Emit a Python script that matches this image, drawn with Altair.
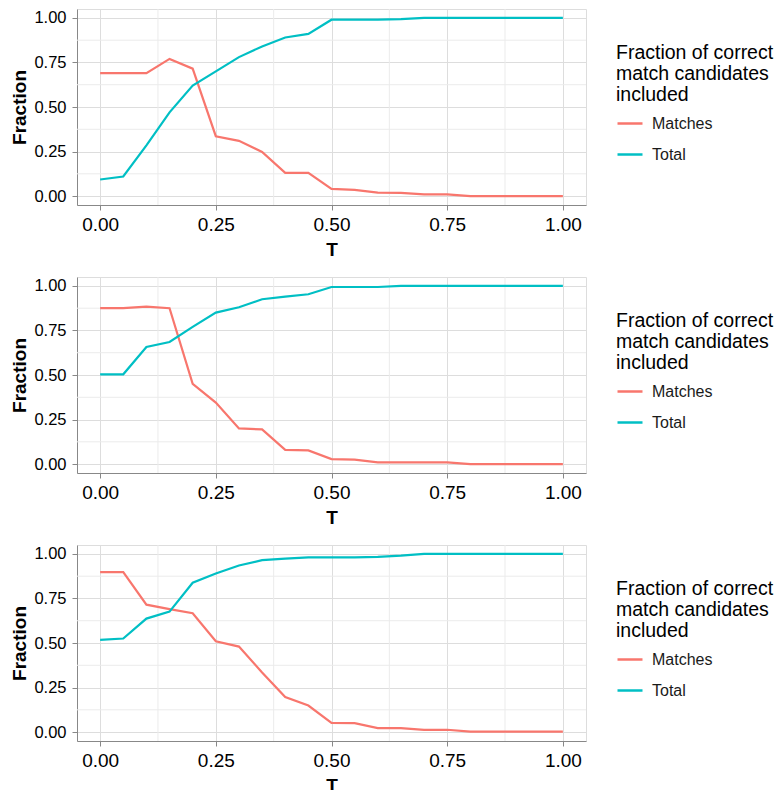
import altair as alt
import pandas as pd

T = [0.0, 0.05, 0.1, 0.15, 0.2, 0.25, 0.3, 0.35, 0.4, 0.45, 0.5,
     0.55, 0.6, 0.65, 0.7, 0.75, 0.8, 0.85, 0.9, 0.95, 1.0]

p1_matches = [0.69, 0.69, 0.69, 0.77, 0.715, 0.336, 0.31, 0.248, 0.13, 0.13, 0.04,
              0.035, 0.02, 0.018, 0.01, 0.01, 0.0, 0.0, 0.0, 0.0, 0.0]
p1_total = [0.093, 0.11, 0.285, 0.47, 0.62, 0.70, 0.78, 0.84, 0.89, 0.91, 0.99,
            0.99, 0.99, 0.993, 1.0, 1.0, 1.0, 1.0, 1.0, 1.0, 1.0]

p2_matches = [0.875, 0.875, 0.884, 0.875, 0.45, 0.345, 0.20, 0.195, 0.08, 0.077, 0.028,
              0.025, 0.01, 0.01, 0.01, 0.01, 0.0, 0.0, 0.0, 0.0, 0.0]
p2_total = [0.504, 0.504, 0.657, 0.685, 0.77, 0.85, 0.88, 0.925, 0.94, 0.953, 0.994,
            0.994, 0.994, 1.0, 1.0, 1.0, 1.0, 1.0, 1.0, 1.0, 1.0]

p3_matches = [0.898, 0.898, 0.715, 0.69, 0.667, 0.51, 0.48, 0.335, 0.197, 0.149, 0.052,
              0.05, 0.022, 0.022, 0.013, 0.013, 0.003, 0.003, 0.003, 0.003, 0.003]
p3_total = [0.518, 0.525, 0.637, 0.676, 0.838, 0.89, 0.935, 0.965, 0.974, 0.981, 0.981,
            0.981, 0.983, 0.99, 1.0, 1.0, 1.0, 1.0, 1.0, 1.0, 1.0]

series_names = ["Matches", "Total"]
series_colors = ["#F8766D", "#00BFC4"]
major_ticks = [0.0, 0.25, 0.5, 0.75, 1.0]
minor_ticks = [0.125, 0.375, 0.625, 0.875]
legend_title = ["Fraction of correct", "match candidates", "included"]

FONT = "Liberation Sans"


def panel(matches, total):
    df = pd.DataFrame({
        "T": T + T,
        "Fraction": matches + total,
        "series": [series_names[0]] * len(T) + [series_names[1]] * len(T),
    })
    minor = pd.DataFrame({"v": minor_ticks})
    xscale = alt.Scale(domain=[-0.05, 1.05], nice=False, zero=False)
    yscale = alt.Scale(domain=[-0.05, 1.05], nice=False, zero=False)
    xaxis = alt.Axis(values=major_ticks, format=".2f", title="T",
                     labelFontSize=19, labelPadding=5, titlePadding=6,
                     titleFontSize=19)
    yaxis = alt.Axis(values=major_ticks, format=".2f", title="Fraction",
                     labelFontSize=16.5, labelPadding=6, titlePadding=4,
                     titleFontSize=19)

    vr = alt.Chart(minor).mark_rule(color="#EBEBEB", strokeWidth=1).encode(
        x=alt.X("v:Q", scale=xscale, axis=xaxis))
    hr = alt.Chart(minor).mark_rule(color="#EBEBEB", strokeWidth=1).encode(
        y=alt.Y("v:Q", scale=yscale, axis=yaxis))

    lines = alt.Chart(df).mark_line(strokeWidth=2.2).encode(
        x=alt.X("T:Q", scale=xscale, axis=xaxis),
        y=alt.Y("Fraction:Q", scale=yscale, axis=yaxis),
        color=alt.Color("series:N",
                        scale=alt.Scale(domain=series_names, range=series_colors),
                        legend=alt.Legend(orient="none", legendX=539, legendY=35,
                                          title=legend_title, titleFontSize=19.5,
                                          titleFontWeight="normal", titleColor="#000000",
                                          titleLineHeight=21, titleLimit=400,
                                          titlePadding=4, titleFont=FONT,
                                          labelFont=FONT, labelFontSize=16,
                                          labelColor="#1A1A1A", labelOffset=8,
                                          symbolType="stroke", symbolSize=625,
                                          symbolStrokeWidth=2.5, rowPadding=9,
                                          padding=0)),
        order=alt.Order("T:Q"),
    )
    return alt.layer(vr, hr, lines).properties(width=509, height=196)


chart = alt.vconcat(
    panel(p1_matches, p1_total),
    panel(p2_matches, p2_total),
    panel(p3_matches, p3_total),
    spacing=16,
).resolve_scale(color="independent").properties(
    padding={"left": 10, "top": 8, "right": 0, "bottom": 0}
).configure_view(
    stroke="#333333", strokeWidth=1
).configure_axis(
    domain=False, grid=True, gridColor="#EBEBEB", gridWidth=1,
    tickColor="#333333", tickSize=5, tickWidth=1,
    labelColor="#4D4D4D", labelFont=FONT, titleFont=FONT,
    titleFontWeight="bold", titleColor="#000000"
).configure(background="white")

chart.save("out.html", embed_options={"renderer": "svg", "actions": False})
